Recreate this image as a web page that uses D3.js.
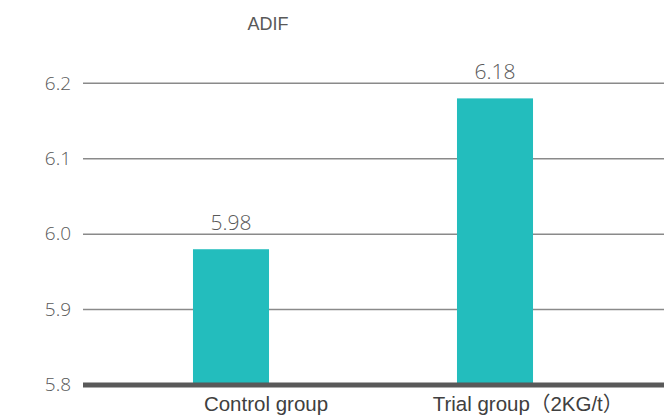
<!DOCTYPE html>
<html>
<head>
<meta charset="utf-8">
<script src="https://cdn.jsdelivr.net/npm/d3@7/dist/d3.min.js"></script>
<style>
  html, body { margin: 0; padding: 0; background: #ffffff; }
  svg { display: block; }
</style>
</head>
<body>
<svg id="chart" width="664" height="418"></svg>
<script>
const chartTitle = "ADIF";
const categories = ["Control group", "Trial group（2KG/t）"];
const values = [5.98, 6.18];
const yTicks = [5.8, 5.9, 6.0, 6.1, 6.2];

const W = 664, H = 418;
const svg = d3.select("#chart");

const y = d3.scaleLinear().domain([5.8, 6.2]).range([385, 83.3]);
const x = d3.scaleBand().domain(categories).range([99, 627]).paddingInner(0.712).paddingOuter(0.356);

const plotLeft = 83, plotRight = W;

// gridlines
svg.append("g").selectAll("line")
  .data(yTicks.filter(t => t !== 5.8))
  .join("line")
  .attr("x1", plotLeft).attr("x2", plotRight)
  .attr("y1", d => y(d)).attr("y2", d => y(d))
  .attr("stroke", "#8a8a8a").attr("stroke-width", 1.5);

// y tick labels
svg.append("g").selectAll("text")
  .data(yTicks)
  .join("text")
  .attr("x", 71).attr("y", d => y(d)).attr("dy", "0.33em")
  .attr("text-anchor", "end")
  .attr("font-family", "'Open Sans', sans-serif").attr("font-weight", 300)
  .attr("font-size", 19).attr("fill", "#595959")
  .text(d => d3.format(".1f")(d));

// bars
svg.append("g").selectAll("rect")
  .data(values)
  .join("rect")
  .attr("x", (d, i) => x(categories[i]))
  .attr("width", x.bandwidth())
  .attr("y", d => y(d))
  .attr("height", d => y(5.8) - y(d))
  .attr("fill", "#23bdbd");

// baseline
svg.append("line")
  .attr("x1", plotLeft).attr("x2", plotRight)
  .attr("y1", y(5.8)).attr("y2", y(5.8))
  .attr("stroke", "#595959").attr("stroke-width", 5);

// data labels
svg.append("g").selectAll("text")
  .data(values)
  .join("text")
  .attr("x", (d, i) => x(categories[i]) + x.bandwidth() / 2)
  .attr("y", d => y(d) - 19)
  .attr("text-anchor", "middle")
  .attr("font-family", "'Open Sans', sans-serif").attr("font-weight", 300)
  .attr("font-size", 21).attr("fill", "#595959")
  .text(d => d3.format(".2f")(d));

// x category labels
const labelDx = [35, 33];
svg.append("g").selectAll("text")
  .data(categories)
  .join("text")
  .attr("x", (d, i) => x(d) + x.bandwidth() / 2 + labelDx[i])
  .attr("y", 411)
  .attr("text-anchor", "middle")
  .attr("font-family", "'Liberation Sans', Arial, 'Noto Sans CJK SC', sans-serif")
  .attr("font-size", 20.5).attr("fill", "#404040")
  .text(d => d);

// title
svg.append("text")
  .attr("x", 268).attr("y", 30)
  .attr("text-anchor", "middle")
  .attr("font-family", "'Liberation Sans', Arial, sans-serif")
  .attr("font-size", 18).attr("fill", "#595959")
  .text(chartTitle);
</script>
</body>
</html>
